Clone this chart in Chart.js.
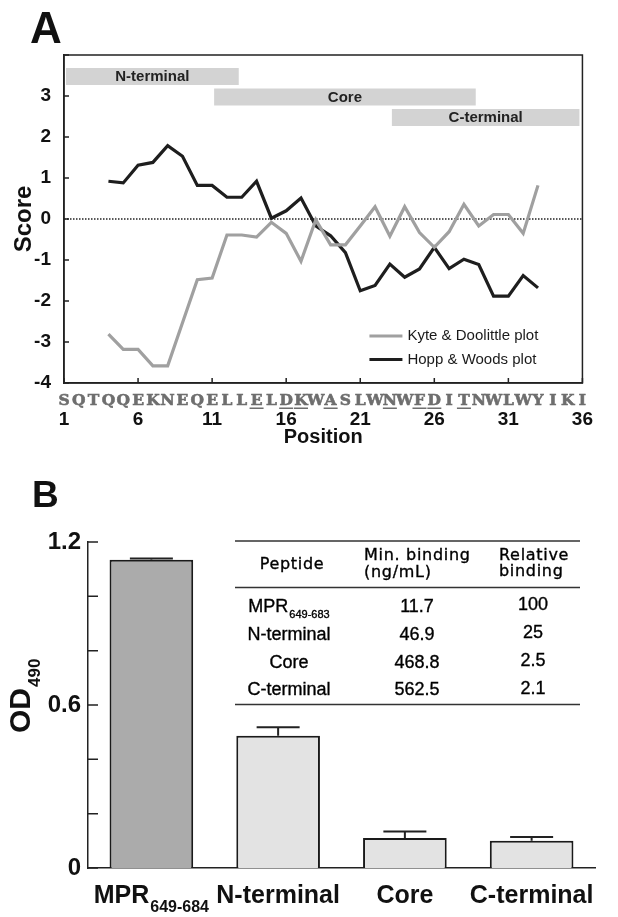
<!DOCTYPE html>
<html>
<head>
<meta charset="utf-8">
<script src="https://cdn.jsdelivr.net/npm/chart.js@4.4.1/dist/chart.umd.min.js"></script>
<style>
  html, body { margin: 0; padding: 0; background: #fff; }
  #wrap { position: relative; width: 618px; height: 917px; }
  canvas { position: absolute; left: 0; }
  #chartA { top: 0; }
  #chartB { top: 460px; }
</style>
</head>
<body>
<div id="wrap">
  <canvas id="chartA" width="618" height="460"></canvas>
  <canvas id="chartB" width="618" height="457"></canvas>
</div>
<script>
// ---- Panel A data: hydropathy profiles ----
const positions = [4, 5, 6, 7, 8, 9, 10, 11, 12, 13, 14, 15, 16, 17, 18, 19, 20, 21, 22, 23, 24, 25, 26, 27, 28, 29, 30, 31, 32, 33];
const kyteDoolittle = [-2.81, -3.18, -3.18, -3.58, -3.58, -2.53, -1.48, -1.44, -0.39, -0.39, -0.44, -0.08, -0.35, -1.03, -0.02,
                       -0.63, -0.63, -0.17, 0.30, -0.42, 0.30, -0.33, -0.69, -0.31, 0.36, -0.17, 0.11, 0.11, -0.35, 0.82];
const hoppWoods = [0.92, 0.88, 1.31, 1.38, 1.79, 1.53, 0.82, 0.82, 0.53, 0.53, 0.92, 0.02, 0.20, 0.51, -0.17,
                   -0.41, -0.82, -1.75, -1.62, -1.10, -1.42, -1.22, -0.69, -1.21, -0.98, -1.11, -1.88, -1.88, -1.38, -1.68];
const xTickValues = [1, 6, 11, 16, 21, 26, 31, 36];
const sequence = 'SQTQQEKNEQELLELDKWASLWNWFDITNWLWYIKI'.split('');
const underlined = [14, 16, 17, 19, 23, 25, 26, 28];
const regionNames = ['N-terminal', 'Core', 'C-terminal'];
const regionStart = [1, 11, 23];
const regionEnd = [13, 29, 36];

// ---- Panel B data: binding ----
const barCategories = ['MPR', 'N-terminal', 'Core', 'C-terminal'];
const barSubscripts = ['649-684', '', '', ''];
const odValues = [1.135, 0.487, 0.110, 0.100];
const odErrors = [0.004, 0.031, 0.024, 0.014];
const tablePeptides = ['MPR', 'N-terminal', 'Core', 'C-terminal'];
const tableSubscripts = ['649-683', '', '', ''];
const minBinding = ['11.7', '46.9', '468.8', '562.5'];
const relBinding = ['100', '25', '2.5', '2.1'];

const FONT = "'Liberation Sans', Arial, Helvetica, sans-serif";
Chart.defaults.font.family = FONT;
Chart.defaults.color = '#111';

// 패널 A 장식: 0선, 영역 막대, 테두리, 눈금, 서열, 범례
const panelA = {
    id: 'panelA',
    beforeDatasetsDraw(chart) {
        const { ctx, chartArea: a, scales: { x, y } } = chart;
        ctx.save();
        ctx.strokeStyle = '#222';
        ctx.lineWidth = 1.5;
        ctx.setLineDash([1.5, 1.5]);
        ctx.beginPath();
        ctx.moveTo(a.left, y.getPixelForValue(0));
        ctx.lineTo(a.right, y.getPixelForValue(0));
        ctx.stroke();
        ctx.setLineDash([]);

        regionNames.forEach((name, i) => {
            const x0 = x.getPixelForValue(regionStart[i]) + 2;
            const x1 = x.getPixelForValue(regionEnd[i]) - 3;
            const top = a.top + 13 + i * 20.5;
            ctx.fillStyle = '#d3d3d3';
            ctx.fillRect(x0, top, x1 - x0, 17);
            ctx.fillStyle = '#222';
            ctx.font = 'bold 15px ' + FONT;
            ctx.textAlign = 'center';
            ctx.textBaseline = 'middle';
            ctx.fillText(name, (x0 + x1) / 2, top + 9);
        });
        ctx.restore();
    },
    afterDraw(chart) {
        const { ctx, chartArea: a, scales: { x, y } } = chart;
        ctx.save();
        ctx.strokeStyle = '#222';
        ctx.lineWidth = 1.5;
        ctx.strokeRect(a.left, a.top, a.right - a.left, a.bottom - a.top);

        ctx.beginPath();
        xTickValues.forEach(v => {
            const px = x.getPixelForValue(v);
            ctx.moveTo(px, a.bottom);
            ctx.lineTo(px, a.bottom - 5);
        });
        for (let v = -4; v <= 4; v++) {
            const py = y.getPixelForValue(v);
            ctx.moveTo(a.left, py);
            ctx.lineTo(a.left + 5, py);
        }
        ctx.stroke();

        // 서열 문자
        ctx.font = 'bold 15.5px "DejaVu Serif", "Liberation Serif", serif';
        ctx.fillStyle = '#6e6e6e';
        ctx.strokeStyle = '#6e6e6e';
        ctx.lineWidth = 0.6;
        ctx.textAlign = 'center';
        ctx.textBaseline = 'alphabetic';
        const base = x.top + 22;
        sequence.forEach((ch, i) => {
            const px = x.getPixelForValue(i + 1);
            ctx.fillText(ch, px, base);
            ctx.strokeText(ch, px, base);
            if (underlined.includes(i + 1)) {
                ctx.fillRect(px - 7, base + 2.5, 14, 1.5);
            }
        });

        // 범례
        ctx.font = '15px ' + FONT;
        ctx.textAlign = 'left';
        ctx.textBaseline = 'middle';
        chart.data.datasets.forEach((ds, i) => {
            const ly = a.bottom - 47 + i * 23.5;
            ctx.strokeStyle = ds.borderColor;
            ctx.lineWidth = 3;
            ctx.beginPath();
            ctx.moveTo(a.right - 213, ly);
            ctx.lineTo(a.right - 180, ly);
            ctx.stroke();
            ctx.fillStyle = '#1a1a1a';
            ctx.fillText(ds.label, a.right - 175, ly);
        });

        ctx.fillStyle = '#111';
        ctx.font = 'bold 44px ' + FONT;
        ctx.textBaseline = 'alphabetic';
        ctx.fillText('A', 30, 43);
        ctx.restore();
    }
};

new Chart(document.getElementById('chartA'), {
    type: 'line',
    data: {
        datasets: [{
            label: 'Kyte & Doolittle plot',
            data: positions.map((p, i) => ({ x: p, y: kyteDoolittle[i] })),
            borderColor: '#a0a0a0',
            borderWidth: 3.2,
            pointRadius: 0,
            tension: 0
        }, {
            label: 'Hopp & Woods plot',
            data: positions.map((p, i) => ({ x: p, y: hoppWoods[i] })),
            borderColor: '#1e1e1e',
            borderWidth: 3.2,
            pointRadius: 0,
            tension: 0
        }]
    },
    options: {
        responsive: false,
        animation: false,
        devicePixelRatio: 1,
        layout: { padding: { left: 0, top: 55, right: 11, bottom: 0 } },
        plugins: { legend: { display: false }, tooltip: { enabled: false } },
        scales: {
            x: {
                type: 'linear',
                min: 1,
                max: 36,
                afterBuildTicks: s => { s.ticks = xTickValues.map(v => ({ value: v })); },
                afterFit: s => { s.height = 77; },
                grid: { display: false, drawTicks: false },
                border: { display: true, color: '#222', width: 1.5 },
                ticks: {
                    padding: 25, autoSkip: false, maxRotation: 0, color: '#111',
                    font: { size: 19, weight: 'bold' },
                    callback: v => String(v)
                },
                title: {
                    display: true, text: 'Position', color: '#111',
                    font: { size: 20, weight: 'bold' },
                    padding: { top: 0, bottom: 11 }
                }
            },
            y: {
                min: -4,
                max: 4,
                afterFit: s => { s.width = 64; },
                grid: { display: false, drawTicks: false },
                border: { display: true, color: '#222', width: 1.5 },
                ticks: {
                    stepSize: 1, padding: 13, color: '#111',
                    font: { size: 19, weight: 'bold' },
                    callback: v => (v === 4 ? '' : String(v))
                },
                title: {
                    display: true, text: 'Score', color: '#111',
                    font: { size: 24, weight: 'bold' },
                    padding: { top: 10, bottom: 0 }
                }
            }
        }
    },
    plugins: [panelA]
});

// 패널 B 장식: 오차 막대, 라벨, 표
const panelB = {
    id: 'panelB',
    afterDatasetsDraw(chart) {
        const { ctx, scales: { y } } = chart;
        const meta = chart.getDatasetMeta(0);
        ctx.save();
        ctx.strokeStyle = '#222';
        ctx.lineWidth = 2;
        meta.data.forEach((bar, i) => {
            const yt = y.getPixelForValue(odValues[i] + odErrors[i]);
            ctx.beginPath();
            ctx.moveTo(bar.x, bar.y);
            ctx.lineTo(bar.x, yt);
            ctx.moveTo(bar.x - 21.5, yt);
            ctx.lineTo(bar.x + 21.5, yt);
            ctx.stroke();
        });
        ctx.restore();
    },
    afterDraw(chart) {
        const { ctx, chartArea: a, scales: { x, y } } = chart;
        ctx.save();
        // inward ticks
        ctx.strokeStyle = '#222';
        ctx.lineWidth = 1.5;
        ctx.beginPath();
        y.ticks.forEach(t => {
            const py = y.getPixelForValue(t.value);
            ctx.moveTo(a.left, py);
            ctx.lineTo(a.left + 10, py);
        });
        ctx.stroke();

        // category labels with subscripts
        ctx.fillStyle = '#111';
        ctx.textAlign = 'left';
        ctx.textBaseline = 'alphabetic';
        barCategories.forEach((name, i) => {
            ctx.font = 'bold 25px ' + FONT;
            const w1 = ctx.measureText(name).width;
            ctx.font = 'bold 16px ' + FONT;
            const w2 = barSubscripts[i] ? ctx.measureText(barSubscripts[i]).width + 1 : 0;
            const sx = x.getPixelForValue(i) - (w1 + w2) / 2;
            ctx.font = 'bold 25px ' + FONT;
            ctx.fillText(name, sx, a.bottom + 35);
            if (barSubscripts[i]) {
                ctx.font = 'bold 16px ' + FONT;
                ctx.fillText(barSubscripts[i], sx + w1 + 1, a.bottom + 44);
            }
        });

        // OD490 axis title
        ctx.save();
        ctx.translate(30, 273);
        ctx.rotate(-Math.PI / 2);
        ctx.font = 'bold 30px ' + FONT;
        ctx.fillText('OD', 0, 0);
        const wOD = ctx.measureText('OD').width;
        ctx.font = 'bold 17px ' + FONT;
        ctx.fillText('490', wOD + 1, 10);
        ctx.restore();

        // panel letter
        ctx.font = 'bold 37px ' + FONT;
        ctx.fillText('B', 32, 47);

        // inset table
        ctx.strokeStyle = '#333';
        ctx.lineWidth = 1.4;
        ctx.beginPath();
        [81, 127.5, 244.5].forEach(ly => {
            ctx.moveTo(235, ly);
            ctx.lineTo(580, ly);
        });
        ctx.stroke();

        const TF = '"DejaVu Sans", ' + FONT;
        ctx.fillStyle = '#000';
        ctx.strokeStyle = '#000';
        ctx.lineWidth = 0.35;
        ctx.letterSpacing = '0.7px';
        ctx.font = '16px ' + TF;
        ctx.textBaseline = 'middle';
        const put = (s, px, py) => { ctx.fillText(s, px, py); ctx.strokeText(s, px, py); };
        ctx.textAlign = 'center';
        put('Peptide', 292, 104.5);
        ctx.textAlign = 'left';
        put('Min. binding', 364, 96);
        put('(ng/mL)', 364, 112.5);
        put('Relative', 499, 96);
        put('binding', 499, 112);

        ctx.letterSpacing = '0px';
        tablePeptides.forEach((p, i) => {
            const ry = 147 + i * 27.8;
            ctx.font = '18px ' + FONT;
            const w1 = ctx.measureText(p).width;
            ctx.font = '11px ' + FONT;
            const w2 = tableSubscripts[i] ? ctx.measureText(tableSubscripts[i]).width + 1 : 0;
            const sx = 289 - (w1 + w2) / 2;
            ctx.textAlign = 'left';
            ctx.font = '18px ' + FONT;
            put(p, sx, ry);
            if (tableSubscripts[i]) {
                ctx.font = '11px ' + FONT;
                put(tableSubscripts[i], sx + w1 + 1, ry + 8);
            }
            ctx.font = '18px ' + FONT;
            ctx.textAlign = 'center';
            put(minBinding[i], 417, ry);
            put(relBinding[i], 533, ry - 1.5);
        });
        ctx.restore();
    }
};

new Chart(document.getElementById('chartB'), {
    type: 'bar',
    data: {
        labels: barCategories,
        datasets: [{
            data: odValues,
            backgroundColor: ['#ababab', '#e3e3e3', '#e3e3e3', '#e3e3e3'],
            borderColor: '#1a1a1a',
            borderWidth: 2,
            barPercentage: 0.66,
            categoryPercentage: 1
        }]
    },
    options: {
        responsive: false,
        animation: false,
        devicePixelRatio: 1,
        layout: { padding: { left: 0, top: 82, right: 23, bottom: 0 } },
        plugins: { legend: { display: false }, tooltip: { enabled: false } },
        scales: {
            x: {
                afterFit: s => { s.height = 49; },
                grid: { display: false, drawTicks: false },
                border: { display: true, color: '#222', width: 1.5 },
                ticks: { display: false }
            },
            y: {
                min: 0,
                max: 1.2,
                afterFit: s => { s.width = 88; },
                grid: { display: false, drawTicks: false },
                border: { display: true, color: '#222', width: 1.5 },
                ticks: {
                    stepSize: 0.2, padding: 7, color: '#111',
                    font: { size: 24, weight: 'bold' },
                    callback: v => {
                        if (Math.abs(v) < 1e-6) return '0';
                        if (Math.abs(v - 0.6) < 1e-6) return '0.6';
                        if (Math.abs(v - 1.2) < 1e-6) return '1.2';
                        return '';
                    }
                }
            }
        }
    },
    plugins: [panelB]
});
</script>
</body>
</html>
